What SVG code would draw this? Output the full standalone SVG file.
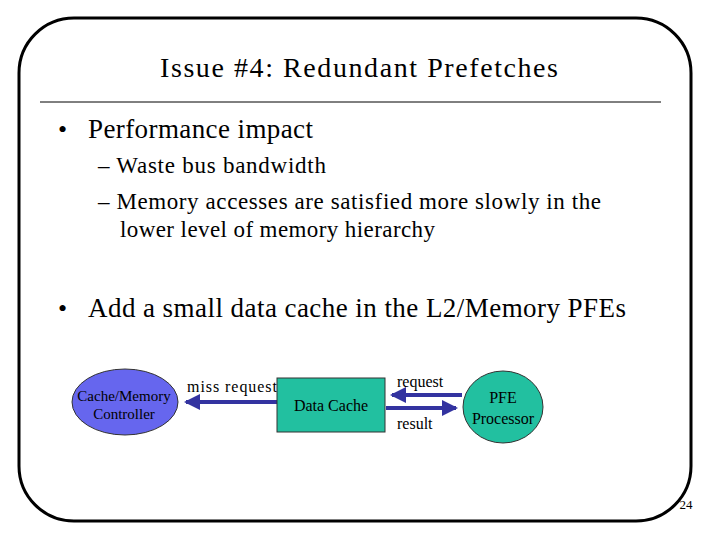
<svg xmlns="http://www.w3.org/2000/svg" width="720" height="540" viewBox="0 0 720 540">
<defs>
<style>
text{font-family:'Liberation Serif','Times New Roman',serif;fill:#000}
.ln{stroke:#3333a0;stroke-width:4}
</style>
<marker id="ah" markerWidth="4" markerHeight="4" refX="3.5" refY="2" orient="auto" markerUnits="strokeWidth"><path d="M0,0 L4,2 L0,4 z" fill="#3333a0"/></marker>
</defs>
<rect width="720" height="540" fill="#fff"/>
<rect x="19" y="18" width="672" height="503" rx="55" fill="none" stroke="#000" stroke-width="3"/>
<text x="160" y="77" font-size="28" textLength="398">Issue #4: Redundant Prefetches</text>
<line x1="40" y1="102" x2="661" y2="102" stroke="#000" stroke-width="1"/>
<text x="58" y="138" font-size="26">•</text>
<text x="88" y="138" font-size="27" textLength="225">Performance impact</text>
<text x="98" y="173" font-size="23" textLength="228">– Waste bus bandwidth</text>
<text x="98" y="209" font-size="23" textLength="503">– Memory accesses are satisfied more slowly  in the</text>
<text x="120" y="237" font-size="23" textLength="315">lower level of memory hierarchy</text>
<text x="58" y="317" font-size="26">•</text>
<text x="88" y="317" font-size="27" textLength="538">Add a small data cache in the L2/Memory PFEs</text>
<g id="connectors">
<line class="ln" x1="277" y1="402" x2="186" y2="402" marker-end="url(#ah)"/>
<line class="ln" x1="462" y1="395" x2="392" y2="395" marker-end="url(#ah)"/>
<line class="ln" x1="386" y1="408" x2="456" y2="408" marker-end="url(#ah)"/>
<text x="187" y="392" font-size="16" textLength="90">miss request</text>
<text x="397" y="387" font-size="16">request</text>
<text x="397" y="429" font-size="16">result</text>
</g>
<g id="cachemem">
<ellipse cx="125" cy="402" rx="53" ry="33" fill="#6666ee" stroke="#333" stroke-width="1"/>
<text x="124" y="401" font-size="15" text-anchor="middle">Cache/Memory</text>
<text x="124" y="419" font-size="15" text-anchor="middle">Controller</text>
</g>
<g id="datacache">
<rect x="277" y="378" width="108" height="54" fill="#22c0a0" stroke="#333" stroke-width="1"/>
<text x="331" y="411" font-size="16" text-anchor="middle">Data Cache</text>
</g>
<g id="pfe">
<ellipse cx="503" cy="407" rx="40" ry="36" fill="#22c0a0" stroke="#333" stroke-width="1"/>
<text x="503" y="403" font-size="16" text-anchor="middle">PFE</text>
<text x="503" y="424" font-size="16" text-anchor="middle">Processor</text>
</g>
<text x="686" y="509" font-size="13" text-anchor="middle">24</text>
</svg>
